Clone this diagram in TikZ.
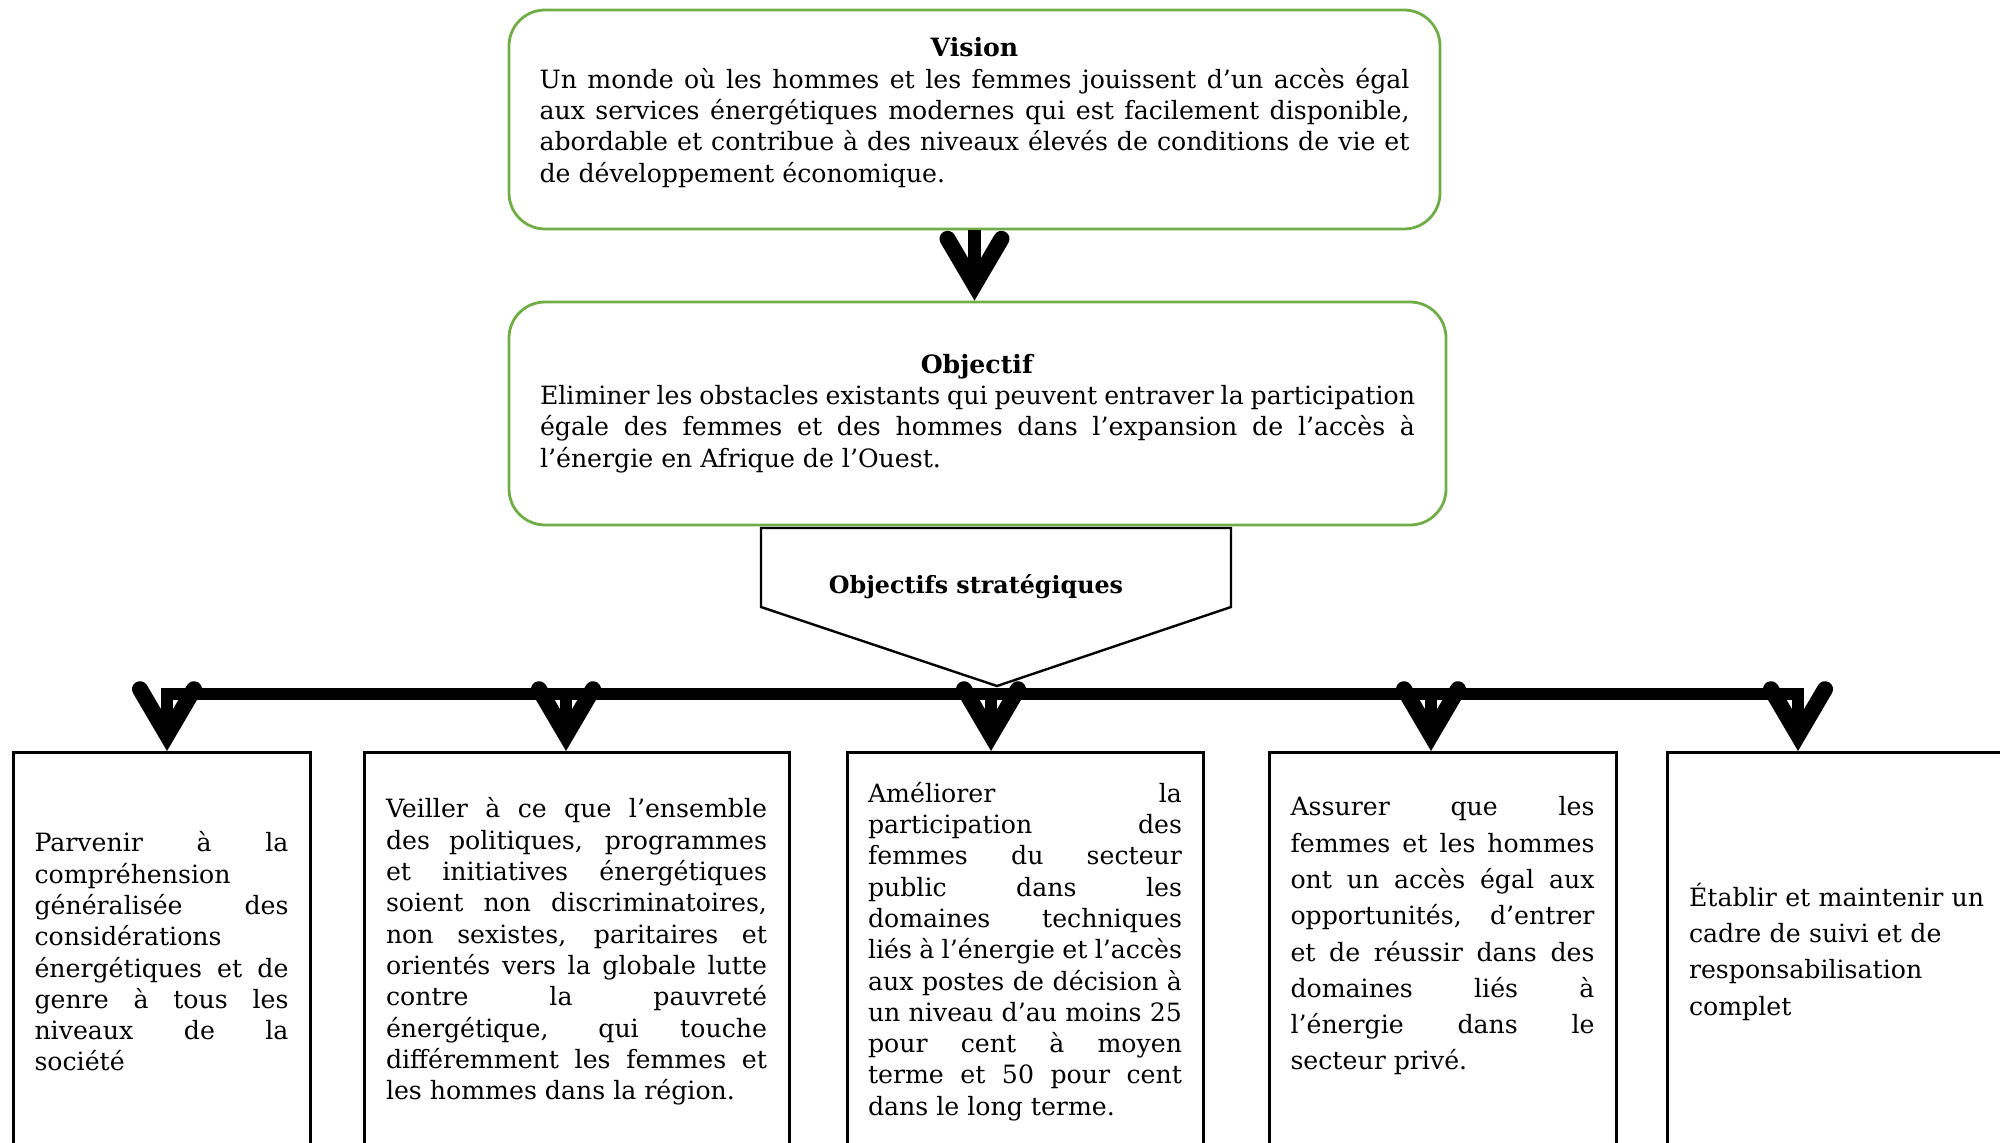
\documentclass[tikz,border=0pt]{standalone}
\usepackage{fontspec}
\setmainfont{DejaVu Serif}
\usetikzlibrary{arrows.meta}
\definecolor{vertvision}{RGB}{112,173,71}
\hyphenpenalty=10000
\exhyphenpenalty=10000
\tolerance=10000
\hbadness=10000

\begin{document}
\begin{tikzpicture}[x=0.5pt,y=-0.5pt,
	txt/.style={font=\fontsize{12.6}{15.65}\selectfont,align=justify,inner sep=0pt},
	greenbox/.style={txt,draw=vertvision,line width=1.4pt,rounded corners=18pt},
	goalbox/.style={txt,draw,line width=1.5pt,anchor=north,minimum height=199pt},
	bigarrow/.style={line width=6.25pt,-{Straight Barb[length=23pt,width=27pt,line width=8pt,line cap=round,line join=miter]}}]
	% page frame
	\clip (0,0) rectangle (2000,1143);
	
	% draw the vision and the objective
	\node[greenbox,minimum width=465.5pt,minimum height=109.5pt,text width=435pt] (vision) at (974.5,119.5)
		{{\centering\textbf{Vision}\par}
		Un monde où les hommes et les femmes jouissent d’un accès égal\linebreak
		aux services énergétiques modernes qui est facilement disponible,\linebreak
		abordable et contribue à des niveaux élevés de conditions de vie et\linebreak
		de développement économique.\\[-6pt]\mbox{}};
	\node[greenbox,minimum width=468.5pt,minimum height=111.5pt,text width=437.5pt] (objectif) at (977.5,413.5)
		{{\centering\textbf{Objectif}\par}
		Eliminer les obstacles existants qui peuvent entraver la participation\linebreak
		égale des femmes et des hommes dans l’expansion de l’accès à\linebreak
		l’énergie en Afrique de l’Ouest.};
	
	% arrow between them
	\draw[bigarrow] (vision.south) -- (vision.south |- objectif.north);
	
	% draw the callout
	\draw[line width=1.2pt,fill=white] (761,528) -- (1231,528) -- (1231,607) -- (997,686) -- (761,607) -- cycle;
	\node[font=\fontsize{11.9}{14}\selectfont\bfseries] (strat) at (976,587) {Objectifs stratégiques};
	
	% draw the strategic goals
	\node[goalbox,minimum width=148.5pt,text width=127pt] (box1) at (161.5,751)
		{Parvenir à la\linebreak
		compréhension\linebreak
		généralisée des\linebreak
		considérations\linebreak
		énergétiques et de\linebreak
		genre à tous les\linebreak
		niveaux de la\linebreak
		société};
	\node[goalbox,minimum width=212.5pt,text width=190.5pt] (box2) at (576.5,751)
		{Veiller à ce que l’ensemble\linebreak
		des politiques, programmes\linebreak
		et initiatives énergétiques\linebreak
		soient non discriminatoires,\linebreak
		non sexistes, paritaires et\linebreak
		orientés vers la globale lutte\linebreak
		contre la pauvreté\linebreak
		énergétique, qui touche\linebreak
		différemment les femmes et\linebreak
		les hommes dans la région.};
	\node[goalbox,minimum width=178pt,text width=157pt] (box3) at (1025,751)
		{Améliorer la\linebreak
		participation des\linebreak
		femmes du secteur\linebreak
		public dans les\linebreak
		domaines techniques\linebreak
		liés à l’énergie et l’accès\linebreak
		aux postes de décision à\linebreak
		un niveau d’au moins 25\linebreak
		pour cent à moyen\linebreak
		terme et 50 pour cent\linebreak
		dans le long terme.};
	\node[goalbox,minimum width=173.5pt,text width=152pt,font=\fontsize{12.6}{18.15}\selectfont] (box4) at (1442.5,751)
		{Assurer que les\linebreak
		femmes et les hommes\linebreak
		ont un accès égal aux\linebreak
		opportunités, d’entrer\linebreak
		et de réussir dans des\linebreak
		domaines liés à\linebreak
		l’énergie dans le\linebreak
		secteur privé.\\\mbox{}};
	\node[goalbox,minimum width=175pt,text width=153pt,font=\fontsize{12.6}{18.15}\selectfont,align=left] (box5) at (1842,751)
		{Établir et maintenir un\\
		cadre de suivi et de\\
		responsabilisation\\
		complet};
	
	% the bar and the arrows to each box
	\coordinate (b1) at (167,694);
	\coordinate (b2) at (566,694);
	\coordinate (b3) at (991,694);
	\coordinate (b4) at (1431,694);
	\coordinate (b5) at (1798,694);
	\draw[line width=6.25pt,line cap=rect] (b1) -- (b5);
	\foreach \i in {1,...,5} {
		\draw[bigarrow] (b\i) -- (b\i |- box\i.north);
	}
\end{tikzpicture}
\end{document}
